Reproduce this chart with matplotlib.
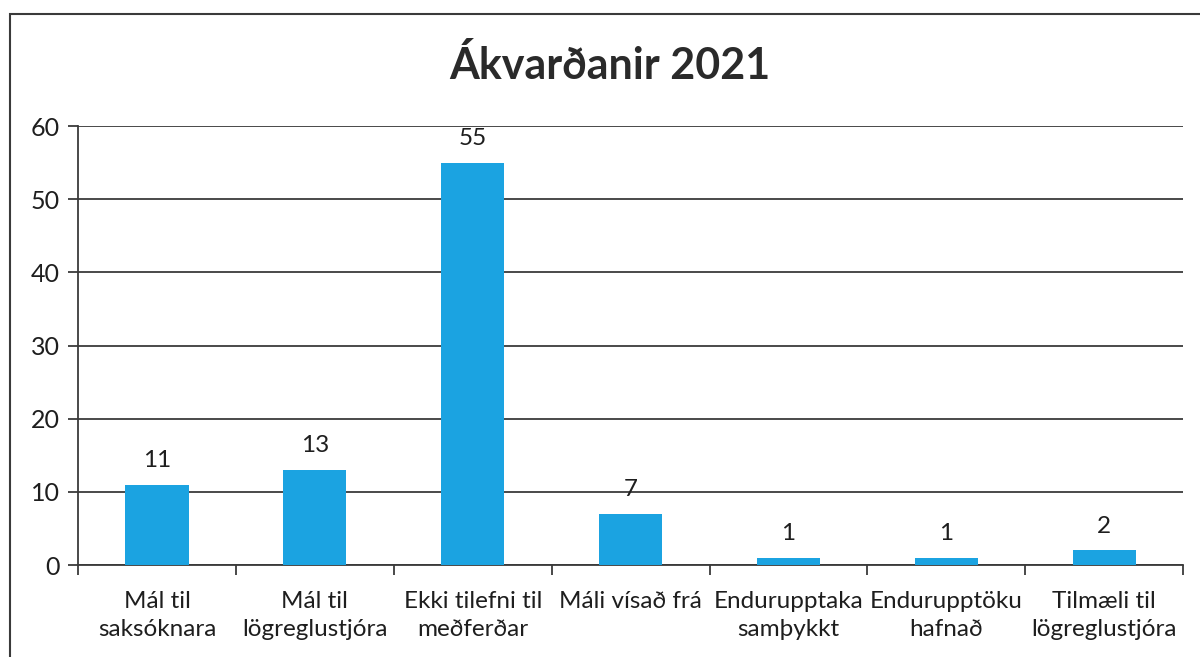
import numpy as np
import matplotlib.pyplot as plt
from matplotlib.patches import Rectangle

plt.rcParams['font.family'] = ['Lato', 'DejaVu Sans']

categories = ['Mál til\nsaksóknara', 'Mál til\nlögreglustjóra', 'Ekki tilefni til\nmeðferðar',
              'Máli vísað frá', 'Endurupptaka\nsamþykkt', 'Endurupptöku\nhafnað',
              'Tilmæli til\nlögreglustjóra']
values = [11, 13, 55, 7, 1, 1, 2]
yticks = [0, 10, 20, 30, 40, 50, 60]

bar_color = '#1ba3e1'
line_color = '#3a3a3a'
text_color = '#1e1e1e'

fig = plt.figure(figsize=(12, 6.57), dpi=100)
ax = fig.add_axes([0.065, 0.140, 0.921, 0.668])

# outer chart border (cut off at right/bottom in the scan)
fig.patches.append(Rectangle((0.008, -0.1), 1.2, 1.079, transform=fig.transFigure,
                             fill=False, edgecolor=line_color, linewidth=1.5))

x = np.arange(len(categories))
bars = ax.bar(x, values, width=0.4, color=bar_color, zorder=3)

for b, v in zip(bars, values):
    ax.annotate(str(v), (b.get_x() + b.get_width() / 2, v), xytext=(0, 10),
                textcoords='offset points', ha='center', va='bottom',
                fontsize=17.5, color=text_color)

ax.set_xlim(-0.5, len(categories) - 0.5)
ax.set_ylim(0, 60)
ax.set_yticks(yticks)
ax.yaxis.grid(True, color=line_color, linewidth=1.3, zorder=0)
ax.set_axisbelow(True)

ax.set_xticks(x)
ax.set_xticklabels(categories, fontsize=17.5, color=text_color, linespacing=1.4)
ax.set_xticks(np.arange(len(categories) + 1) - 0.5, minor=True)
ax.tick_params(axis='x', which='major', length=0, pad=19)
ax.tick_params(axis='x', which='minor', length=7, width=1.3, color=line_color)
ax.tick_params(axis='y', length=7, width=1.3, color=line_color, labelsize=18,
               labelcolor=text_color, pad=6)

for s in ['top', 'right']:
    ax.spines[s].set_visible(False)
for s in ['left', 'bottom']:
    ax.spines[s].set_color(line_color)
    ax.spines[s].set_linewidth(1.3)

fig.text(0.508, 0.9, 'Ákvarðanir 2021', ha='center', va='center',
         fontsize=31, fontweight='bold', color='#2a2a2a')

fig.savefig('out.png', dpi=100)
